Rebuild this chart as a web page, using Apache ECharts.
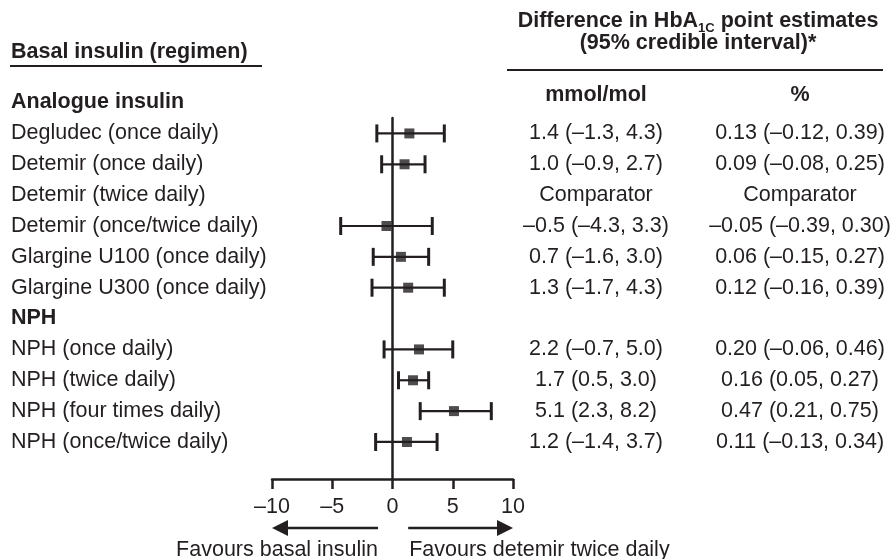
<!DOCTYPE html>
<html>
<head>
<meta charset="utf-8">
<script src="https://cdn.jsdelivr.net/npm/echarts@6/dist/echarts.min.js"></script>
<style>
  html, body { margin: 0; padding: 0; background: #fff; }
  #forest { width: 896px; height: 559px; }
</style>
</head>
<body>
<div id="forest"></div>
<script>
// rows of the table, top to bottom
var rowLabels = [
  'Analogue insulin',
  'Degludec (once daily)',
  'Detemir (once daily)',
  'Detemir (twice daily)',
  'Detemir (once/twice daily)',
  'Glargine U100 (once daily)',
  'Glargine U300 (once daily)',
  'NPH',
  'NPH (once daily)',
  'NPH (twice daily)',
  'NPH (four times daily)',
  'NPH (once/twice daily)'
];
var headerRows = [0, 7];

// difference in HbA1c, mmol/mol (null = no estimate)
var estimates = [null, 1.4, 1.0, null, -0.5, 0.7, 1.3, null, 2.2, 1.7, 5.1, 1.2];
var lowerCI   = [null, -1.3, -0.9, null, -4.3, -1.6, -1.7, null, -0.7, 0.5, 2.3, -1.4];
var upperCI   = [null, 4.3, 2.7, null, 3.3, 3.0, 4.3, null, 5.0, 3.0, 8.2, 3.7];

var mmolText = ['', '1.4 (–1.3, 4.3)', '1.0 (–0.9, 2.7)', 'Comparator', '–0.5 (–4.3, 3.3)',
  '0.7 (–1.6, 3.0)', '1.3 (–1.7, 4.3)', '', '2.2 (–0.7, 5.0)', '1.7 (0.5, 3.0)',
  '5.1 (2.3, 8.2)', '1.2 (–1.4, 3.7)'];
var pctText = ['', '0.13 (–0.12, 0.39)', '0.09 (–0.08, 0.25)', 'Comparator', '–0.05 (–0.39, 0.30)',
  '0.06 (–0.15, 0.27)', '0.12 (–0.16, 0.39)', '', '0.20 (–0.06, 0.46)', '0.16 (0.05, 0.27)',
  '0.47 (0.21, 0.75)', '0.11 (–0.13, 0.34)'];

var xTicks = ['–10', '–5', '0', '5', '10'];
var arrowStart = [-1.2, 1.3];   // where the "favours" arrows begin, in axis units

var INK = '#231f20';
var FONT = '"Liberation Sans", Arial, Helvetica, sans-serif';
var FS = 21.5;

var chart = echarts.init(document.getElementById('forest'));

// build series data
var labelData = rowLabels.map(function (_, i) { return [0, i]; });
var ciData = [], pointData = [];
for (var i = 0; i < rowLabels.length; i++) {
  if (estimates[i] === null) continue;
  ciData.push([lowerCI[i], upperCI[i], i]);
  pointData.push([estimates[i], i]);
}

function measure(text, font) {
  var ctx = document.createElement('canvas').getContext('2d');
  ctx.font = font;
  return ctx.measureText(text).width;
}

// header line 1 with subscript, pieced together
var h1a = 'Difference in HbA', h1b = '1C', h1c = ' point estimates';
var boldFont = 'bold ' + FS + 'px ' + FONT;
var subFont = 'bold 13px ' + FONT;
var wa = measure(h1a, boldFont), wb = measure(h1b, subFont), wc = measure(h1c, boldFont);
var h1x = 698 - (wa + wb + wc) / 2;

function txt(text, x, y, align, bold, size) {
  return {
    type: 'text', x: x, y: y, silent: true,
    style: {
      text: text, fill: INK, fontFamily: FONT, fontSize: size || FS,
      fontWeight: bold ? 'bold' : 'normal', align: align, verticalAlign: 'middle'
    }
  };
}

var option = {
  animation: false,
  backgroundColor: '#fff',
  grid: { left: 272, right: 383, top: 118, bottom: 80, containLabel: false },
  xAxis: {
    type: 'value', min: -10, max: 10, interval: 5,
    axisLine: { onZero: false, lineStyle: { color: INK, width: 2.5 } },
    axisTick: { inside: false, length: 10, lineStyle: { color: INK, width: 2.5 } },
    splitLine: { show: false },
    axisLabel: {
      margin: 17, color: INK, fontFamily: FONT, fontSize: FS,
      formatter: function (v) { return xTicks[(v + 10) / 5]; }
    }
  },
  yAxis: {
    type: 'value', inverse: true, min: 0.5, max: 12.2,
    axisLine: { show: true, onZero: true, lineStyle: { color: INK, width: 2.5 } },
    axisTick: { show: false },
    axisLabel: { show: false },
    splitLine: { show: false }
  },
  series: [
    {
      name: 'rows', type: 'custom', data: labelData, silent: true,
      encode: { x: 0, y: 1 },
      renderItem: function (params, api) {
        var i = api.value(1);
        var y = api.coord([0, i])[1];
        var bold = headerRows.indexOf(i) >= 0;
        return {
          type: 'group',
          children: [
            txt(rowLabels[i], 11, y, 'left', bold),
            txt(mmolText[i], 596, y, 'center', false),
            txt(pctText[i], 800, y, 'center', false)
          ]
        };
      }
    },
    {
      name: 'interval', type: 'custom', data: ciData, silent: true,
      encode: { x: [0, 1], y: 2 },
      renderItem: function (params, api) {
        var a = api.coord([api.value(0), api.value(2)]);
        var b = api.coord([api.value(1), api.value(2)]);
        var cap = 9;
        var st = { stroke: INK, lineWidth: 2.2 };
        var cs = { stroke: INK, lineWidth: 3 };
        return {
          type: 'group',
          children: [
            { type: 'line', shape: { x1: a[0], y1: a[1], x2: b[0], y2: b[1] }, style: st },
            { type: 'line', shape: { x1: a[0], y1: a[1] - cap, x2: a[0], y2: a[1] + cap }, style: cs },
            { type: 'line', shape: { x1: b[0], y1: b[1] - cap, x2: b[0], y2: b[1] + cap }, style: cs }
          ]
        };
      }
    },
    {
      name: 'estimate', type: 'scatter', data: pointData, silent: true,
      symbol: 'rect', symbolSize: 10, z: 5,
      itemStyle: { color: INK }
    }
  ],
  graphic: [
    txt('Basal insulin (regimen)', 11, 52, 'left', true),
    { type: 'line', silent: true, shape: { x1: 10, y1: 66, x2: 262, y2: 66 }, style: { stroke: INK, lineWidth: 2 } },
    txt(h1a, h1x, 21, 'left', true),
    txt(h1b, h1x + wa, 28, 'left', true, 13),
    txt(h1c, h1x + wa + wb, 21, 'left', true),
    txt('(95% credible interval)*', 698, 43, 'center', true),
    { type: 'line', silent: true, shape: { x1: 507, y1: 70, x2: 883, y2: 70 }, style: { stroke: INK, lineWidth: 2 } },
    txt('mmol/mol', 596, 95, 'center', true),
    txt('%', 800, 95, 'center', true)
  ]
};
chart.setOption(option);

// arrows under the axis, placed with the axis scale
var yArrow = 528;
var xl0 = chart.convertToPixel({ gridIndex: 0 }, [arrowStart[0], 1])[0];
var xl1 = chart.convertToPixel({ gridIndex: 0 }, [-10, 1])[0];
var xr0 = chart.convertToPixel({ gridIndex: 0 }, [arrowStart[1], 1])[0];
var xr1 = chart.convertToPixel({ gridIndex: 0 }, [10, 1])[0];
var head = 16, half = 8;
var arrowGraphics = [
  { type: 'line', silent: true, shape: { x1: xl0, y1: yArrow, x2: xl1 + head - 1, y2: yArrow }, style: { stroke: INK, lineWidth: 2.5 } },
  { type: 'polygon', silent: true, shape: { points: [[xl1, yArrow], [xl1 + head, yArrow - half], [xl1 + head, yArrow + half]] }, style: { fill: INK } },
  { type: 'line', silent: true, shape: { x1: xr0, y1: yArrow, x2: xr1 - head + 1, y2: yArrow }, style: { stroke: INK, lineWidth: 2.5 } },
  { type: 'polygon', silent: true, shape: { points: [[xr1, yArrow], [xr1 - head, yArrow - half], [xr1 - head, yArrow + half]] }, style: { fill: INK } },
  txt('Favours basal insulin', xl0, 550, 'right', false),
  txt('Favours detemir twice daily', xr0 + 1, 550, 'left', false)
];
chart.setOption({ graphic: option.graphic.concat(arrowGraphics) });
</script>
</body>
</html>
